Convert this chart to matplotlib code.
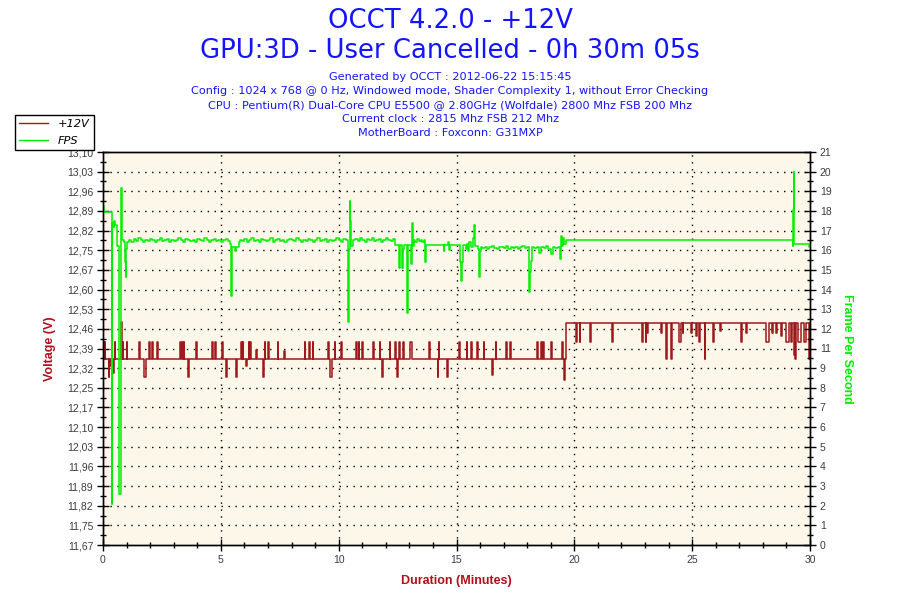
import numpy as np
import matplotlib
matplotlib.use("Agg")
import matplotlib.pyplot as plt
from matplotlib.lines import Line2D

# =========================
# TEXTOS
# =========================
titulo_1 = "OCCT 4.2.0 - +12V"
titulo_2 = "GPU:3D - User Cancelled - 0h 30m 05s"
info_linhas = [
    "Generated by OCCT : 2012-06-22 15:15:45",
    "Config : 1024 x 768 @ 0 Hz, Windowed mode, Shader Complexity 1, without Error Checking",
    "CPU : Pentium(R) Dual-Core CPU E5500 @ 2.80GHz (Wolfdale) 2800 Mhz FSB 200 Mhz",
    "Current clock : 2815 Mhz FSB 212 Mhz",
    "MotherBoard : Foxconn: G31MXP",
]

# eixos
volt_min, volt_max = 11.67, 13.10
volt_tick_labels = ["11,67", "11,75", "11,82", "11,89", "11,96", "12,03", "12,10",
                    "12,17", "12,25", "12,32", "12,39", "12,46", "12,53", "12,60",
                    "12,67", "12,75", "12,82", "12,89", "12,96", "13,03", "13,10"]
fps_min, fps_max = 0, 21
fps_tick_labels = ["0", "1", "2", "3", "4", "5", "6", "7", "8", "9", "11", "12",
                   "13", "14", "15", "16", "17", "18", "19", "20", "21"]
minutos_ticks = [0, 5, 10, 15, 20, 25, 30]

# =========================
# DADOS +12V (minutos, volts)
# =========================
volt_nivel_1 = 12.345     # antes da mudanca
volt_nivel_2 = 12.476     # depois da mudanca
volt_mudanca = 19.64

# picos: (inicio, fim, valor)
volt_picos = [
    (0.00, 0.03, 12.41), (0.07, 0.09, 12.41), (0.25, 0.27, 12.281), (0.30, 0.33, 12.32),
    (0.44, 0.46, 12.295), (0.51, 0.53, 12.41), (0.75, 0.80, 12.48), (0.83, 0.85, 12.41),
    (1.00, 1.02, 12.41), (1.54, 1.56, 12.41), (1.74, 1.84, 12.281), (1.95, 2.00, 12.41),
    (2.10, 2.13, 12.41), (2.30, 2.34, 12.41), (3.27, 3.29, 12.41), (3.37, 3.39, 12.41),
    (3.42, 3.44, 12.41), (3.61, 3.63, 12.281), (3.96, 4.00, 12.41), (4.63, 4.65, 12.41),
    (4.76, 4.80, 12.41), (5.04, 5.10, 12.41), (5.24, 5.26, 12.281), (5.66, 5.68, 12.281),
    (5.86, 5.88, 12.41), (5.92, 5.94, 12.41), (6.07, 6.10, 12.32), (6.18, 6.21, 12.41),
    (6.24, 6.26, 12.41), (6.49, 6.52, 12.38), (6.77, 6.85, 12.281), (6.86, 6.89, 12.41),
    (6.99, 7.03, 12.41), (7.41, 7.44, 12.41), (7.69, 7.71, 12.375), (8.56, 8.59, 12.41),
    (8.72, 8.77, 12.41), (8.91, 8.93, 12.41), (9.54, 9.57, 12.41), (9.63, 9.70, 12.281),
    (9.83, 9.86, 12.41), (10.12, 10.15, 12.41), (10.75, 10.78, 12.41), (10.85, 10.87, 12.41),
    (10.99, 11.02, 12.41), (11.47, 11.50, 12.41), (11.74, 11.76, 12.41), (11.84, 11.86, 12.281),
    (12.17, 12.19, 12.41), (12.38, 12.42, 12.41), (12.49, 12.52, 12.281), (12.57, 12.60, 12.41),
    (12.71, 12.76, 12.41), (13.04, 13.12, 12.41), (13.84, 13.86, 12.41), (14.21, 14.23, 12.281),
    (14.25, 14.27, 12.41), (14.61, 14.64, 12.281), (15.12, 15.15, 12.41), (15.43, 15.46, 12.41),
    (15.63, 15.65, 12.41), (15.88, 15.93, 12.41), (16.16, 16.18, 12.41), (16.51, 16.53, 12.29),
    (16.66, 16.68, 12.41), (17.11, 17.13, 12.41), (17.29, 17.31, 12.41), (18.41, 18.44, 12.41),
    (18.59, 18.61, 12.41), (18.69, 18.73, 12.41), (19.02, 19.04, 12.41), (19.48, 19.50, 12.41),
    (19.55, 19.62, 12.27),
    # depois da mudanca
    (20.09, 20.12, 12.41), (20.23, 20.25, 12.41), (20.68, 20.70, 12.41), (21.60, 21.62, 12.41),
    (22.88, 22.91, 12.41), (23.03, 23.05, 12.41), (23.09, 23.11, 12.44), (23.69, 23.71, 12.44),
    (23.88, 23.92, 12.345), (24.11, 24.13, 12.345), (24.46, 24.52, 12.41), (24.59, 24.61, 12.44),
    (24.97, 24.99, 12.44), (25.16, 25.20, 12.43), (25.31, 25.35, 12.41), (25.53, 25.55, 12.345),
    (25.89, 25.91, 12.41), (26.18, 26.22, 12.45), (27.09, 27.13, 12.41), (27.29, 27.33, 12.44),
    (28.15, 28.25, 12.41), (28.40, 28.42, 12.44), (28.56, 28.60, 12.44), (28.79, 28.83, 12.43),
    (29.00, 29.10, 12.41), (29.19, 29.25, 12.41), (29.31, 29.36, 12.36), (29.36, 29.42, 12.345),
    (29.50, 29.60, 12.41), (29.73, 29.83, 12.41), (29.94, 30.00, 12.345),
]

# =========================
# DADOS FPS (minutos, fps) - pontos de degrau
# =========================
fps_pontos = [
    (0.00, 18.1), (0.04, 17.8), (0.37, 2.2), (0.39, 17.2), (0.45, 17.0), (0.48, 17.3),
    (0.53, 17.1), (0.58, 16.0), (0.69, 2.7), (0.75, 16.0), (0.78, 19.1), (0.80, 16.3),
    (0.88, 16.2), (0.93, 15.1), (0.96, 14.3), (0.98, 15.8), (1.02, 16.2),
    (5.38, 16.1), (5.45, 13.3), (5.48, 15.95), (5.58, 15.7), (5.66, 15.95), (5.75, 16.2),
    (10.38, 16.2), (10.41, 11.9), (10.44, 15.8), (10.47, 18.4), (10.50, 17.3), (10.53, 16.0),
    (12.39, 16.05), (12.58, 14.8), (12.61, 16.05), (12.69, 14.8), (12.72, 15.8), (12.78, 16.05),
    (12.90, 12.4), (12.93, 16.05), (13.08, 15.0), (13.11, 17.2), (13.14, 16.0), (13.18, 16.3),
    (13.25, 16.2), (13.32, 16.35), (13.40, 16.25), (13.48, 16.3), (13.55, 16.2), (13.62, 16.3),
    (13.66, 15.1), (13.69, 16.05), (14.45, 15.7), (14.49, 16.05), (14.66, 16.2), (14.69, 15.75),
    (14.72, 16.05), (15.13, 15.1), (15.20, 14.1), (15.23, 15.1), (15.28, 16.05), (15.40, 15.8),
    (15.45, 16.1), (15.50, 15.7), (15.55, 16.2), (15.62, 15.9), (15.70, 16.4), (15.74, 17.1),
    (15.77, 16.5), (15.80, 16.0), (15.90, 15.8), (15.96, 14.3), (15.99, 15.7), (16.03, 15.9),
    (18.06, 15.6), (18.09, 13.5), (18.13, 14.6), (18.17, 15.2), (18.20, 15.9),
    (19.40, 15.3), (19.44, 16.5), (19.48, 16.0), (19.53, 16.4), (19.58, 16.1), (19.64, 16.3),
    (29.27, 16.0), (29.29, 17.9), (29.31, 19.95), (29.34, 16.1), (29.96, 15.95), (30.00, 15.95),
]

# trechos com ruido (inicio, valores a cada 0.1 min)
fps_ruido = [
    (1.1, [16.3, 16.2, 16.35, 16.25, 16.4, 16.3, 16.2, 16.3, 16.25, 16.35, 16.3, 16.2,
           16.3, 16.4, 16.25, 16.3, 16.35, 16.2, 16.3, 16.25, 16.3, 16.4, 16.3, 16.2,
           16.35, 16.3, 16.25, 16.3, 16.2, 16.35, 16.3, 16.25, 16.4, 16.3, 16.2, 16.3,
           16.35, 16.25, 16.3, 16.2, 16.3, 16.35, 16.25]),
    (5.8, [16.3, 16.25, 16.35, 16.2, 16.3, 16.4, 16.25, 16.3, 16.2, 16.35, 16.3, 16.25,
           16.3, 16.4, 16.2, 16.3, 16.35, 16.25, 16.3, 16.2, 16.3, 16.35, 16.3, 16.25,
           16.4, 16.3, 16.2, 16.3, 16.25, 16.35, 16.3, 16.2, 16.3, 16.4, 16.25, 16.3,
           16.35, 16.2, 16.3, 16.25, 16.3, 16.4, 16.3, 16.2, 16.35, 16.3]),
    (10.6, [16.3, 16.35, 16.25, 16.4, 16.3, 16.2, 16.35, 16.3, 16.4, 16.25, 16.3, 16.35,
            16.2, 16.3, 16.4, 16.3, 16.25, 16.35]),
    (16.1, [15.85, 15.95, 15.8, 15.9, 16.0, 15.85, 15.8, 15.95, 15.9, 15.85, 16.0, 15.8,
            15.9, 15.85, 15.95, 15.8, 15.9, 16.0, 15.85, 15.9]),
    (18.3, [15.85, 15.95, 15.6, 15.9, 15.85, 16.0, 15.8, 15.55, 15.9, 15.85, 15.95]),
]

# =========================
# MONTAR SERIES DEGRAU
# =========================
v_t, v_v = [0.0], [volt_nivel_1]
v_t.append(volt_mudanca)
v_v.append(volt_nivel_2)
for t0, t1, v in volt_picos:
    base = volt_nivel_1 if t0 < volt_mudanca else volt_nivel_2
    v_t += [t0, t1]
    v_v += [v, base]
ordem = np.argsort(v_t, kind="stable")
v_t = np.array(v_t)[ordem]
v_v = np.array(v_v)[ordem]
v_t = np.append(v_t, 30.0)
v_v = np.append(v_v, v_v[-1])

f_pts = list(fps_pontos)
for inicio, valores in fps_ruido:
    tempos = inicio + 0.1 * np.arange(len(valores))
    f_pts += list(zip(tempos, valores))
f_pts.sort(key=lambda p: p[0])
f_t = np.array([p[0] for p in f_pts])
f_v = np.array([p[1] for p in f_pts])

# =========================
# GRAFICO
# =========================
cor_volt = "#A0181C"
cor_label = "#B0101C"
cor_fps = "#00F000"
cor_tick = "#3C3C3C"
cor_titulo = "#1414FF"
fonte_eixo = "Liberation Sans"

fig = plt.figure(figsize=(9, 6), dpi=100)
ax = fig.add_axes([103 / 900, 55 / 600, 707 / 900, 393 / 600])
ax.set_facecolor("#FDF7EA")
ax2 = ax.twinx()

ax.plot(v_t, v_v, drawstyle="steps-post", color=cor_volt, lw=1.1, label="+12V")
ax2.plot(f_t, f_v, drawstyle="steps-post", color=cor_fps, lw=1.1, label="FPS")

ax.set_xlim(0, 30)
ax.set_ylim(volt_min, volt_max)
ax2.set_ylim(fps_min, fps_max)

volt_pos = np.linspace(volt_min, volt_max, len(volt_tick_labels))
ax.set_yticks(volt_pos)
ax.set_yticklabels(volt_tick_labels)
ax.set_yticks((volt_pos[:-1] + volt_pos[1:]) / 2, minor=True)
fps_pos = np.linspace(fps_min, fps_max, len(fps_tick_labels))
ax2.set_yticks(fps_pos)
ax2.set_yticklabels(fps_tick_labels)
ax2.set_yticks((fps_pos[:-1] + fps_pos[1:]) / 2, minor=True)
ax.set_xticks(minutos_ticks)
ax.set_xticks(range(0, 31), minor=True)

for a in (ax, ax2):
    a.tick_params(which="major", direction="inout", length=8, width=1,
                  labelsize=7.5, labelcolor=cor_tick, pad=3)
    a.tick_params(which="minor", direction="inout", length=4, width=1)
    for lab in a.get_xticklabels() + a.get_yticklabels():
        lab.set_family(fonte_eixo)
    for s in a.spines.values():
        s.set_color("black")
        s.set_linewidth(1)
ax.tick_params(axis="y", which="both", right=False)
ax2.tick_params(axis="y", which="both", left=False)

# grade pontilhada
for y in volt_pos[1:-1]:
    ax.axhline(y, color="black", lw=1, linestyle=(0, (1, 4)), zorder=0.5)
for x in minutos_ticks[1:-1]:
    ax.axvline(x, color="black", lw=1, linestyle=(0, (1, 4)), zorder=0.5)

ax.set_xlabel("Duration (Minutes)", color=cor_label, fontsize=9, fontweight="bold",
              family=fonte_eixo)
ax.xaxis.set_label_coords(0.5, -0.077)
ax.set_ylabel("Voltage (V)", color=cor_label, fontsize=9, fontweight="bold",
              family=fonte_eixo)
ax.yaxis.set_label_coords(-0.066, 0.5)
ax2.set_ylabel("Frame Per Second", color=cor_fps, fontsize=9, fontweight="bold",
               family=fonte_eixo, rotation=270, va="center")
ax2.yaxis.set_label_coords(1.053, 0.5)

# titulos
fig.text(0.5, 1 - 21 / 600, titulo_1, ha="center", va="center", fontsize=18.6, color=cor_titulo)
fig.text(0.5, 1 - 51 / 600, titulo_2, ha="center", va="center", fontsize=18.6, color=cor_titulo)
for i, linha in enumerate(info_linhas):
    fig.text(0.5, 1 - (77 + 13.9 * i) / 600, linha, ha="center", va="center",
             fontsize=8.1, color=cor_titulo)

# legenda (cobre parte do rotulo 13,10, como no original)
handles = [Line2D([], [], color=cor_volt, lw=1), Line2D([], [], color=cor_fps, lw=1)]
leg = fig.legend(handles, ["+12V", "FPS"], loc="upper left",
                 bbox_to_anchor=(15 / 900, 1 - 115 / 600), fancybox=False,
                 edgecolor="black", framealpha=1, borderaxespad=0,
                 prop={"style": "italic", "size": 8.2}, handlelength=2.5,
                 handletextpad=0.9, borderpad=0.38, labelspacing=0.55)
leg.get_frame().set_linewidth(1)

fig.savefig("out.png", dpi=100)
